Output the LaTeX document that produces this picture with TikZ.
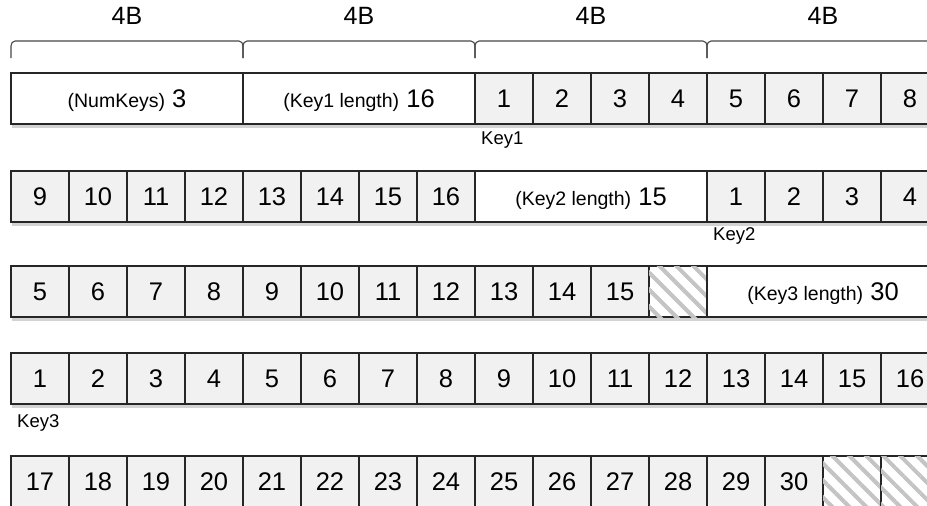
\documentclass[tikz,border=0pt]{standalone}
\usepackage{fontspec}
\setmainfont{Liberation Sans}
\usetikzlibrary{positioning,shadows,patterns.meta}
\definecolor{CellFill}{HTML}{F1F1F1}
\definecolor{CellLine}{HTML}{262626}
\definecolor{Hatch}{HTML}{C4C4C4}
\newcommand\lentxt[1]{{\fontsize{19.5}{19.5}\selectfont #1}}

\tikzset{
  cell/.style={draw=CellLine, line width=1.2pt, fill=CellFill,
               minimum width=58pt, minimum height=51pt, inner sep=0pt,
               outer sep=0pt, anchor=north west,
               text height=17.5pt, text depth=0pt,
               drop shadow={shadow xshift=1pt, shadow yshift=-3.5pt, opacity=0.35},
               font=\fontsize{25.5}{25.5}\selectfont},
  lenbox/.style={cell, fill=white, minimum width=232pt},
  padcell/.style={cell, fill=white,
                  postaction={pattern={Lines[angle=-45,distance=12pt,line width=4pt]},
                              pattern color=Hatch}},
  keylabel/.style={font=\fontsize{18.5}{18.5}\selectfont, anchor=north west, inner sep=0pt},
  bytes/.style={font=\fontsize{25}{25}\selectfont, inner sep=0pt},
  bracket/.style={draw=CellLine!85, line width=1.1pt}
}

\begin{document}
\begin{tikzpicture}[x=1pt, y=1pt]
  \useasboundingbox (0,0) rectangle (927,-506);

  % 4-byte brackets
  \foreach \i in {0,...,3} {
    \pgfmathsetmacro\xa{11+232*\i}
    \pgfmathsetmacro\xb{243+232*\i}
    \draw[bracket] (\xa,-58) -- (\xa,-46) to[out=90,in=180] (\xa+4,-41)
      -- (\xb-4,-41) to[out=0,in=90] (\xb,-46) -- (\xb,-58);
    \node[bytes] (word\i) at ({127+232*\i},-16) {4B};
  }

  % row 1
  \node[lenbox] (numkeys) at (11,-73) {\lentxt{(NumKeys)}\ 3};
  \node[lenbox] (len1) at (243,-73) {\lentxt{(Key1 length)}\ 16};
  \foreach \n in {1,...,8}
    \node[cell] (ra\n) at ({475+58*(\n-1)},-73) {\n};
  \node[keylabel] (key1) at ([xshift=6pt,yshift=-8pt]ra1.south west) {Key1};

  % row 2
  \foreach \n in {9,...,16}
    \node[cell] (rb\n) at ({11+58*(\n-9)},-171) {\n};
  \node[lenbox] (len2) at (475,-171) {\lentxt{(Key2 length)}\ 15};
  \foreach \n in {1,...,4}
    \node[cell] (rc\n) at ({707+58*(\n-1)},-171) {\n};
  \node[keylabel] (key2) at ([xshift=6pt,yshift=-5pt]rc1.south west) {Key2};

  % row 3
  \foreach \n in {5,...,15}
    \node[cell] (rd\n) at ({11+58*(\n-5)},-266) {\n};
  \node[padcell] (pad1) at (649,-266) {};
  \node[lenbox] (len3) at (707,-266) {\lentxt{(Key3 length)}\ 30};

  % row 4
  \foreach \n in {1,...,16}
    \node[cell] (re\n) at ({11+58*(\n-1)},-353) {\n};
  \node[keylabel] (key3) at ([xshift=6pt,yshift=-10pt]re1.south west) {Key3};

  % row 5
  \foreach \n in {17,...,30}
    \node[cell] (rf\n) at ({11+58*(\n-17)},-456) {\n};
  \node[padcell] (pad2) at (823,-456) {};
  \node[padcell] (pad3) at (881,-456) {};
\end{tikzpicture}
\end{document}
